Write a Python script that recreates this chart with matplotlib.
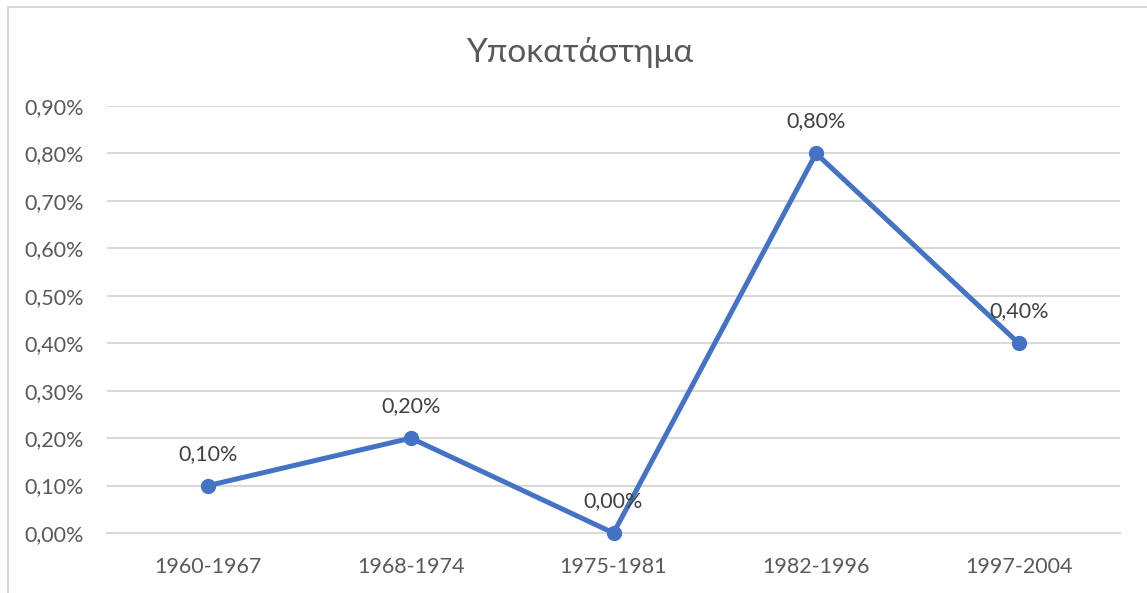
import matplotlib
matplotlib.use("Agg")
import matplotlib.pyplot as plt
from matplotlib.lines import Line2D

categories = ["1960-1967", "1968-1974", "1975-1981", "1982-1996", "1997-2004"]
values = [0.001, 0.002, 0.000, 0.008, 0.004]
yticks = [0.000, 0.001, 0.002, 0.003, 0.004, 0.005, 0.006, 0.007, 0.008, 0.009]
title = "Υποκατάστημα"

plt.rcParams['font.family'] = ['Lato', 'DejaVu Sans']
W, H = 1147, 593
fig = plt.figure(figsize=(W / 100, H / 100), dpi=100)
ax = fig.add_axes([107 / W, 1 - 533 / H, (1120 - 107) / W, (533 - 106) / H])

txt = "#595959"
grid = "#d9d9d9"
blue = "#4472C4"

def pct(v):
    return f"{v*100:.2f}%".replace(".", ",")

x = list(range(len(categories)))
ax.plot(x, values, color=blue, lw=3.6, marker="o", ms=10, zorder=3,
        solid_capstyle="round", clip_on=False)
for xi, v in zip(x, values):
    ax.annotate(pct(v), (xi, v), xytext=(0, 23), textcoords="offset points",
                ha="center", va="center", fontsize=15.5, color="#404040")

ax.set_xlim(-0.5, len(categories) - 0.5)
ax.set_ylim(0, 0.009)
ax.set_yticks(yticks)
ax.set_yticklabels([pct(v) for v in yticks])
ax.set_xticks(x)
ax.set_xticklabels(categories)
ax.tick_params(axis="both", length=0, labelsize=15.5, labelcolor=txt)
ax.tick_params(axis="y", pad=16.5)
ax.tick_params(axis="x", pad=17)
ax.grid(axis="y", color=grid, lw=1.5)
ax.set_axisbelow(True)
for s in ["top", "right", "left"]:
    ax.spines[s].set_visible(False)
ax.spines["bottom"].set_color(grid)
ax.spines["bottom"].set_linewidth(1.5)

fig.text(580 / W, 1 - 52 / H, title, ha="center", va="center", fontsize=24, color=txt)

fig.add_artist(Line2D([8 / W, 1], [1 - 7 / H, 1 - 7 / H], color=grid, lw=1.5, transform=fig.transFigure))
fig.add_artist(Line2D([8 / W, 8 / W], [0, 1 - 7 / H], color=grid, lw=1.5, transform=fig.transFigure))

fig.savefig("out.png", dpi=100)
